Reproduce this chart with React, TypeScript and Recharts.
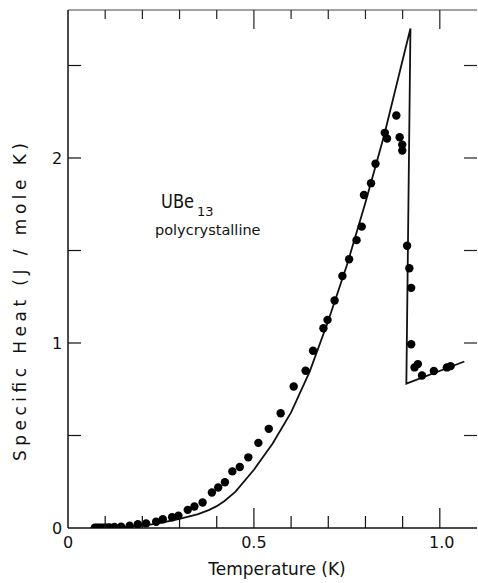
import React from 'react';
import { ComposedChart, Line, Scatter, XAxis, YAxis, Customized } from 'recharts';

// Measured specific heat (dots)
const measuredT = [
  0.072, 0.077, 0.082, 0.088, 0.094, 0.100, 0.106, 0.112, 0.125, 0.143,
  0.166, 0.188, 0.210, 0.237, 0.255, 0.280, 0.297, 0.322, 0.340, 0.362,
  0.387, 0.404, 0.422, 0.442, 0.462, 0.485, 0.512, 0.540, 0.572, 0.607,
  0.639, 0.659, 0.687, 0.698, 0.717, 0.738, 0.756, 0.776, 0.790, 0.796,
  0.815, 0.827, 0.852, 0.858, 0.883, 0.892, 0.899, 0.899, 0.912, 0.918,
  0.923, 0.923, 0.941, 0.932, 0.952, 0.984, 1.019, 1.029,
];
const measuredC = [
  0.001, 0.001, 0.001, 0.001, 0.002, 0.002, 0.002, 0.003, 0.006, 0.007,
  0.012, 0.020, 0.025, 0.034, 0.047, 0.058, 0.067, 0.098, 0.116, 0.138,
  0.192, 0.219, 0.247, 0.306, 0.330, 0.382, 0.460, 0.536, 0.620, 0.765,
  0.850, 0.958, 1.080, 1.125, 1.230, 1.362, 1.453, 1.556, 1.629, 1.800,
  1.864, 1.969, 2.136, 2.105, 2.230, 2.112, 2.072, 2.040, 1.526, 1.404,
  1.298, 0.993, 0.886, 0.868, 0.824, 0.849, 0.868, 0.875,
];

// Theoretical curve (solid line)
const fitT = [
  0.10, 0.15, 0.20, 0.25, 0.30, 0.35, 0.38, 0.40, 0.42, 0.45,
  0.50, 0.55, 0.60, 0.65, 0.70, 0.75, 0.80, 0.85, 0.90, 0.921,
  0.910, 1.066,
];
const fitC = [
  0.000, 0.004, 0.012, 0.028, 0.050, 0.075, 0.098, 0.118, 0.145, 0.195,
  0.315, 0.455, 0.625, 0.845, 1.120, 1.420, 1.760, 2.120, 2.530, 2.700,
  0.780, 0.900,
];

const xTicks = [0, 0.1, 0.2, 0.3, 0.4, 0.5, 0.6, 0.7, 0.8, 0.9, 1.0];
const xTickLabels = ['0', '', '', '', '', '0.5', '', '', '', '', '1.0'];
const yTicks = [0, 0.5, 1, 1.5, 2, 2.5];
const yTickLabels = ['0', '', '1', '', '2', ''];

const measured = measuredT.map((t, i) => ({ t, c: measuredC[i] }));
const fit = fitT.map((t, i) => ({ t, c: fitC[i] }));

const FONT = '"DejaVu Sans", sans-serif';

const isHalf = (v: number) => Math.abs(v * 2 - Math.round(v * 2)) < 1e-6;

function BottomTick(props: any) {
  const { x, y, payload, index } = props;
  const v = payload.value;
  const len = isHalf(v) ? 20 : 12;
  const label = xTickLabels[index] ?? '';
  return (
    <g>
      {v > 0 && <line x1={x} x2={x} y1={y} y2={y - len} stroke="#111" strokeWidth={1.2} />}
      {label && (
        <text x={x + (v === 1 ? 2 : 0)} y={y + 20} textAnchor="middle" fontFamily={FONT} fontSize={16} fill="#111">
          {label}
        </text>
      )}
    </g>
  );
}

function TopTick(props: any) {
  const { x, y, payload } = props;
  const v = payload.value;
  const len = isHalf(v) ? 19 : 9;
  if (v <= 0) return <g />;
  return <line x1={x} x2={x} y1={y} y2={y + len} stroke="#222" strokeWidth={1.2} />;
}

function LeftTick(props: any) {
  const { x, y, payload, index } = props;
  const v = payload.value;
  const label = yTickLabels[index] ?? '';
  return (
    <g>
      {v > 0 && <line x1={x} x2={x + 13} y1={y} y2={y} stroke="#111" strokeWidth={1.2} />}
      {label && (
        <text x={x - 11} y={y} dy="0.36em" textAnchor="middle" fontFamily={FONT} fontSize={16} fill="#111">
          {label}
        </text>
      )}
    </g>
  );
}

function RightTick(props: any) {
  const { x, y, payload } = props;
  const v = payload.value;
  if (v <= 0) return <g />;
  return <line x1={x} x2={x - 13} y1={y} y2={y} stroke="#222" strokeWidth={1.2} />;
}

function Annotations() {
  return (
    <g fontFamily={FONT} fill="#111">
      <text x={161} y={208} fontSize={19} textLength={33} lengthAdjust="spacingAndGlyphs">UBe</text>
      <text x={197} y={216} fontSize={13}>13</text>
      <text x={155} y={235} fontSize={14.5}>polycrystalline</text>
      <text x={277} y={575} textAnchor="middle" fontSize={17}>
        Temperature (K)
      </text>
      <text
        x={0}
        y={0}
        transform="translate(26 302) rotate(-90)"
        textAnchor="middle"
        fontSize={17}
        textLength={318}
        lengthAdjust="spacing"
      >
        Specific Heat (J / mole K)
      </text>
    </g>
  );
}

const Dot = (p: any) => <circle cx={p.cx} cy={p.cy} r={4.2} fill="#000" />;

export default function App() {
  return (
    <div style={{ position: 'fixed', left: 0, top: 0, width: 478, height: 583, background: '#fff' }}>
      <ComposedChart
        width={478}
        height={583}
        margin={{ top: 9, right: 0, bottom: 54, left: 67 }}
        style={{ background: '#fff' }}
      >
        <XAxis
          xAxisId="b"
          dataKey="t"
          type="number"
          domain={[0, 1.1]}
          allowDataOverflow
          ticks={xTicks}
          interval={0}
          height={1}
          tickSize={0}
          tickMargin={0}
          tickLine={false}
          axisLine={{ stroke: '#111', strokeWidth: 1.5 }}
          tick={<BottomTick />}
        />
        <XAxis
          xAxisId="top"
          orientation="top"
          dataKey="t"
          type="number"
          domain={[0, 1.1]}
          allowDataOverflow
          ticks={xTicks}
          interval={0}
          height={1}
          tickSize={0}
          tickMargin={0}
          tickLine={false}
          axisLine={{ stroke: '#444', strokeWidth: 1 }}
          tick={<TopTick />}
        />
        <YAxis
          yAxisId="l"
          type="number"
          domain={[0, 2.8]}
          allowDataOverflow
          ticks={yTicks}
          interval={0}
          width={1}
          tickSize={0}
          tickMargin={0}
          tickLine={false}
          axisLine={{ stroke: '#111', strokeWidth: 1.5 }}
          tick={<LeftTick />}
        />
        <YAxis
          yAxisId="r"
          orientation="right"
          type="number"
          domain={[0, 2.8]}
          allowDataOverflow
          ticks={yTicks}
          interval={0}
          width={1}
          tickSize={0}
          tickMargin={0}
          tickLine={false}
          axisLine={false}
          tick={<RightTick />}
        />
        <Line
          xAxisId="b"
          yAxisId="l"
          data={fit}
          dataKey="c"
          type="linear"
          stroke="#111"
          strokeWidth={1.8}
          dot={false}
          activeDot={false}
          isAnimationActive={false}
        />
        <Scatter
          xAxisId="b"
          yAxisId="l"
          data={measured}
          dataKey="c"
          shape={<Dot />}
          isAnimationActive={false}
        />
        <Customized component={<Annotations />} />
      </ComposedChart>
    </div>
  );
}
